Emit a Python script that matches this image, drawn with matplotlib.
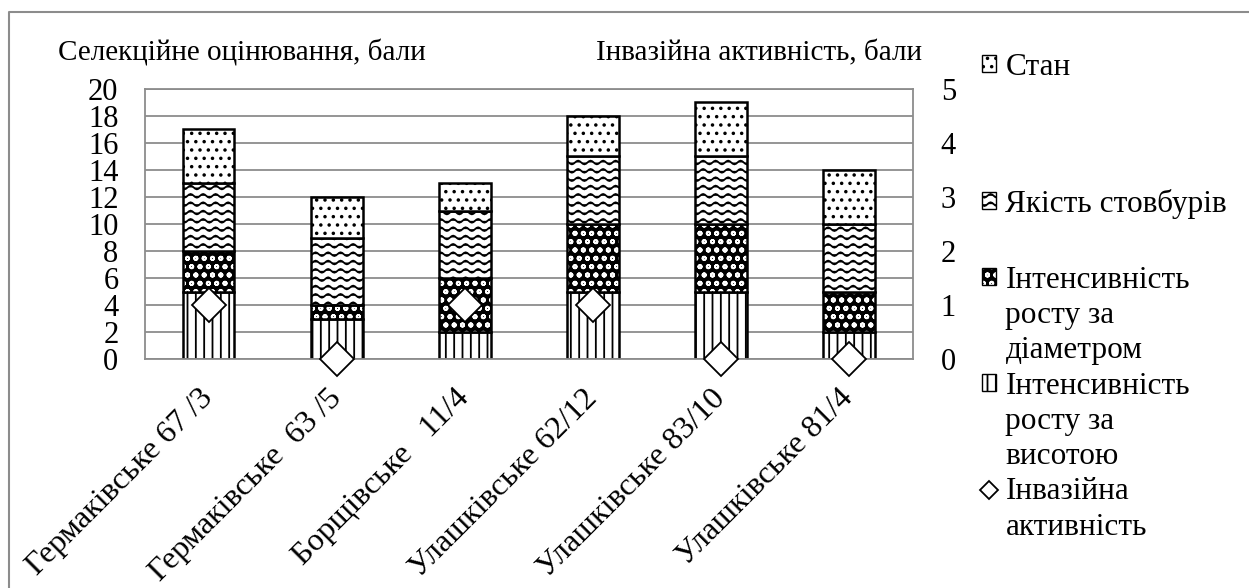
import numpy as np
import matplotlib
matplotlib.use("Agg")
import matplotlib.pyplot as plt
import matplotlib.hatch as mhatch
from matplotlib.path import Path
from matplotlib.patches import Patch
from matplotlib.lines import Line2D
import warnings

warnings.filterwarnings("ignore")

# data
sites = ["Гермаківське 67 /3", "Гермаківське  63 /5", "Борщівське   11/4",
         "Улашківське 62/12", "Улашківське 83/10", "Улашківське 81/4"]
height_growth = [5, 3, 2, 5, 5, 2]
diameter_growth = [3, 1, 4, 5, 5, 3]
stem_quality = [5, 5, 5, 5, 5, 5]
condition = [4, 3, 2, 3, 4, 4]
invasive = [1, 0, 1, 1, 0, 0]


class WaveHatch(mhatch.HatchPatternBase):
    # wavy lines for '~'
    def __init__(self, hatch, density):
        self.num_lines = int(hatch.count('~') * density)
        self.n_pts = 8 * 8 + 1
        self.num_vertices = self.num_lines * self.n_pts

    def set_vertices_and_codes(self, vertices, codes):
        xs = np.linspace(0, 1, self.n_pts)
        step = 1.0 / self.num_lines
        for i in range(self.num_lines):
            y0 = (i + 0.5) * step
            sl = slice(i * self.n_pts, (i + 1) * self.n_pts)
            vertices[sl, 0] = xs
            vertices[sl, 1] = y0 + 0.22 * step * np.sin(2 * np.pi * 8 * xs)
            codes[sl] = Path.LINETO
            codes[i * self.n_pts] = Path.MOVETO


mhatch._hatch_types.append(WaveHatch)

plt.rcParams['font.family'] = 'serif'
plt.rcParams['font.serif'] = ['Liberation Serif', 'DejaVu Serif']
plt.rcParams['hatch.linewidth'] = 1.3

grey = '#8c8c8c'
fs = 22

fig = plt.figure(figsize=(12.49, 5.88), dpi=100)
ax = fig.add_axes([0.116, 0.389, 0.615, 0.46])
x = np.arange(len(sites))
w = 0.4

b1 = np.array(height_growth)
b2 = b1 + np.array(diameter_growth)
b3 = b2 + np.array(stem_quality)

ax.bar(x, height_growth, w, facecolor='white', edgecolor='black', hatch='||', lw=1.8, zorder=2)
ax.bar(x, diameter_growth, w, bottom=b1, facecolor='black', edgecolor='white', hatch='oo', lw=0, zorder=2)
ax.bar(x, diameter_growth, w, bottom=b1, facecolor='none', edgecolor='black', lw=1.8, zorder=2)
ax.bar(x, stem_quality, w, bottom=b2, facecolor='white', edgecolor='black', hatch='~~', lw=1.8, zorder=2)
ax.bar(x, condition, w, bottom=b3, facecolor='white', edgecolor='black', hatch='..', lw=1.8, zorder=2)

ax.set_ylim(0, 20)
ax.set_yticks(range(0, 21, 2))
ax.set_xlim(-0.5, len(sites) - 0.5)
ax.yaxis.grid(True, color=grey, lw=1.3)
ax.set_axisbelow(True)
for s in ax.spines.values():
    s.set_color(grey)
    s.set_linewidth(1.3)
ax.tick_params(axis='y', length=0, labelsize=fs, pad=19)
ax.set_xticks(x, sites, rotation=45, ha='right', va='center', rotation_mode='anchor')
ax.tick_params(axis='x', length=0, labelsize=23, pad=25)

ax2 = ax.twinx()
ax2.plot(x, invasive, 'D', ms=17, mfc='white', mec='black', mew=1.3, clip_on=False, zorder=5)
ax2.set_ylim(0, 5)
ax2.set_yticks(range(0, 6))
ax2.tick_params(axis='y', length=0, labelsize=fs, pad=20)
for s in ax2.spines.values():
    s.set_visible(False)

fig.text(58 / 1249, 1 - 53 / 588, "Селекційне оцінювання, бали", fontsize=21,
         ha='left', va='center')
fig.text(922 / 1249, 1 - 53 / 588, "Інвазійна активність, бали", fontsize=21,
         ha='right', va='center')

# legend, split like the original; wrapped labels as extra rows
h_cond = Patch(facecolor='white', edgecolor='black', hatch='..', lw=1)
h_qual = Patch(facecolor='white', edgecolor='black', hatch='~~', lw=1)
h_diam = (Patch(facecolor='black', edgecolor='white', hatch='oo', lw=0),
          Patch(facecolor='none', edgecolor='black', lw=1))
h_height = Patch(facecolor='white', edgecolor='black', hatch='||', lw=1)
h_inv = Line2D([], [], ls='none', marker='D', ms=9, mfc='white', mec='black', mew=1.3)
blank = Line2D([], [], ls='none')

leg_kw = dict(frameon=False, fontsize=22.5, handlelength=0.45, handleheight=0.45,
              handletextpad=0.3, labelspacing=0.2, borderpad=0, borderaxespad=0,
              loc='upper left')
fig.legend([h_cond], ["Стан"], bbox_to_anchor=(982 / 1249, 1 - 53 / 588), **leg_kw)
fig.legend([h_qual], ["Якість стовбурів"], bbox_to_anchor=(982 / 1249, 1 - 189 / 588), **leg_kw)
fig.legend([h_diam, blank, blank, h_height, blank, blank, h_inv, blank],
           ["Інтенсивність", "росту за", "діаметром", "Інтенсивність", "росту за",
            "висотою", "Інвазійна", "активність"],
           bbox_to_anchor=(982 / 1249, 1 - 266 / 588), **leg_kw)

# chart border
fig.add_artist(Line2D([9 / 1249, 9 / 1249, 1], [0, 1 - 12 / 588, 1 - 12 / 588],
                      color=grey, lw=1.5, transform=fig.transFigure))

fig.savefig("out.png", dpi=100)
